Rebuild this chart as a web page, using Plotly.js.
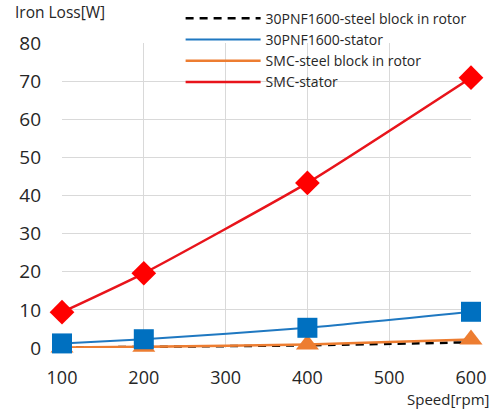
<!DOCTYPE html>
<html><head><meta charset="utf-8">
<script src="https://cdn.plot.ly/plotly-3.0.1.min.js"></script>
<style>html,body{margin:0;padding:0;background:#fff}#chart{width:501px;height:410px}</style>
</head><body><div id="chart"></div>
<script>
var speed = [100, 200, 400, 600];
var pnfRotor = [0.1, 0.3, 0.7, 1.5];
var pnfStator = [1.2, 2.3, 5.3, 9.5];
var smcRotor = [0.1, 0.3, 0.9, 2.2];
var smcStator = [9.4, 19.6, 43.3, 70.9];
var names = ['30PNF1600-steel block in rotor', '30PNF1600-stator', 'SMC-steel block in rotor', 'SMC-stator'];
var xTicks = [100, 200, 300, 400, 500, 600];
var yTicks = [0, 10, 20, 30, 40, 50, 60, 70, 80];

var FONT = 'Open Sans, Liberation Sans, sans-serif';
function lineTrace(y, name, color, width, dash) {
  return {x: speed, y: y, name: name, mode: 'lines', type: 'scatter',
    line: {color: color, width: width, dash: dash || 'solid', shape: 'spline', smoothing: 0.5},
    cliponaxis: false, hoverinfo: 'skip'};
}
function markerTrace(y, color, symbol, size) {
  return {x: speed, y: y, mode: 'markers', type: 'scatter', showlegend: false,
    marker: {color: color, symbol: symbol, size: size, line: {width: 0}},
    cliponaxis: false, hoverinfo: 'skip'};
}
var data = [
  lineTrace(pnfRotor, names[0], '#000000', 2.5, '8px,6px'),
  lineTrace(pnfStator, names[1], '#1F78C1', 2),
  lineTrace(smcRotor, names[2], '#ED7D31', 2.5),
  lineTrace(smcStator, names[3], '#E8141B', 2.5),
  markerTrace(smcRotor, '#ED7D31', 'triangle-up', 20),
  markerTrace(pnfStator, '#0070C0', 'square', 20),
  markerTrace(smcStator, '#FF0000', 'diamond', 19)
];

var layout = {
  width: 501, height: 410,
  margin: {l: 62, r: 30, t: 43, b: 62, autoexpand: false},
  paper_bgcolor: '#ffffff', plot_bgcolor: '#ffffff',
  font: {family: FONT, color: '#262626'},
  showlegend: true,
  legend: {x: 0.29, y: 1.132, xanchor: 'left', yanchor: 'top', bgcolor: 'rgba(0,0,0,0)',
    font: {size: 14, family: FONT, color: '#262626'}, tracegroupgap: 0, itemwidth: 75},
  xaxis: {range: [100, 600], tickvals: xTicks, ticktext: xTicks.map(String),
    showgrid: true, gridcolor: '#D9D9D9', gridwidth: 1, zeroline: false, showline: false,
    ticks: '', ticklabelstandoff: 17, automargin: false,
    tickfont: {size: 18, family: FONT, color: '#262626'}, fixedrange: true},
  yaxis: {range: [0, 80], tickvals: yTicks, ticktext: yTicks.map(String),
    showgrid: true, gridcolor: '#D9D9D9', gridwidth: 1, zeroline: false, showline: false,
    ticks: '', ticklabelstandoff: 20, automargin: false,
    tickfont: {size: 19, family: FONT, color: '#262626'}, fixedrange: true},
  annotations: [
    {text: 'Iron Loss[W]', xref: 'paper', yref: 'paper', x: -0.12, y: 1.1, xanchor: 'left', yanchor: 'middle',
      showarrow: false, font: {size: 15.5, family: FONT, color: '#262626'}},
    {text: 'Speed[rpm]', xref: 'paper', yref: 'paper', x: 1.05, y: -0.168, xanchor: 'right', yanchor: 'middle',
      showarrow: false, font: {size: 15, family: FONT, color: '#262626'}}
  ]
};
Plotly.newPlot('chart', data, layout, {staticPlot: true});
</script></body></html>
